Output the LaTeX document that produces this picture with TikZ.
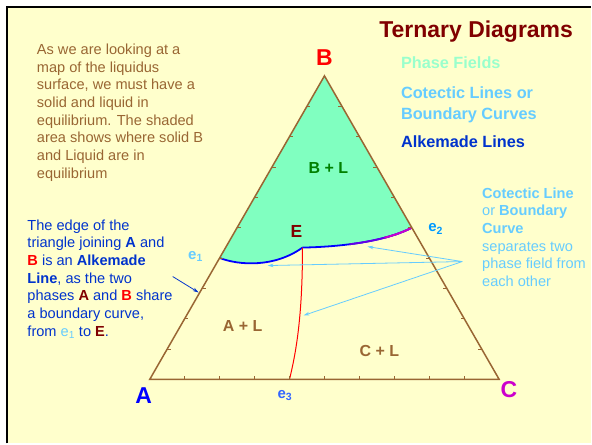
\documentclass[tikz,border=0pt]{standalone}
\usepackage{fontspec}
\setmainfont{Liberation Sans}
\usepackage{tikz}
\usetikzlibrary{positioning, calc, arrows.meta}

\definecolor{paper}{HTML}{FFFFCC}
\definecolor{edgebrown}{HTML}{996633}
\definecolor{fieldgreen}{HTML}{80FFC0}
\definecolor{mint}{HTML}{99FFCC}
\definecolor{skyblue}{HTML}{66CCFF}
\definecolor{alkblue}{HTML}{0033CC}
\definecolor{darkred}{HTML}{800000}
\definecolor{vertexC}{HTML}{CC00CC}
\definecolor{etwo}{HTML}{0099FF}
\definecolor{ethree}{HTML}{3366FF}
\definecolor{fieldtext}{HTML}{008000}

\newcommand{\fs}[2]{\fontsize{#1}{#2}\selectfont}

\begin{document}
\begin{tikzpicture}[
    x=1pt, y=-1pt,
    every node/.style={inner sep=0pt, outer sep=0pt},
    para/.style={align=left, anchor=north west, font=\fs{14.6}{17.7}},
    legend/.style={align=left, anchor=north west, font=\bfseries\fs{16.3}{20.7}},
    vlabel/.style={font=\bfseries\fs{23}{23}},
    field/.style={font=\bfseries\fs{16}{16}, anchor=base},
    elabel/.style={font=\bfseries\fs{15}{15}, anchor=base west},
    triedge/.style={draw=edgebrown, line width=1.5pt, line join=miter},
    tickmark/.style={edgebrown, line width=0.8pt},
    pointer/.style={-{Stealth[length=6pt, width=3.5pt]}, skyblue, line width=0.8pt}
]
    % page and frame
    \fill[white] (0,0) rectangle (592,444);
    \fill[paper] (8,8) rectangle (592,444);
    \draw[line width=2pt] (7,444) -- (7,7) -- (592,7);
    \useasboundingbox (0,0) rectangle (592,444);

    % corners and invariant points
    \coordinate (A) at (150,380);
    \coordinate (B) at (325,76);
    \coordinate (C) at (500,380);
    \coordinate (e1) at (220,258.4);
    \coordinate (e2) at (412.5,228);
    \coordinate (e3) at (290,380);
    \coordinate (E) at (303,248);

    % B + L field
    \fill[fieldgreen] (B) -- (e1) .. controls (240,266) and (275,268) .. (E)
        .. controls (350,247) and (390,240) .. (e2) -- cycle;

    % boundary curves
    \draw[blue, line width=1.8pt] (e1) .. controls (240,266) and (275,268) .. (E);
    \draw[blue, line width=1.8pt] (E) .. controls (350,247) and (390,240) .. (e2);
    \begin{scope}
        \clip (350,200) rectangle (420,260);
        \draw[blue!50!vertexC, line width=1.8pt] (E) .. controls (350,247) and (390,240) .. (e2);
    \end{scope}
    \begin{scope}
        \clip (385,200) rectangle (420,260);
        \draw[vertexC, line width=1.8pt] (E) .. controls (350,247) and (390,240) .. (e2);
    \end{scope}
    \draw[red, line width=1pt] (E) .. controls (303,320) and (296,355) .. (e3);

    % triangle with ticks
    \draw[triedge] (A) -- (B) -- (C) -- cycle;
    \foreach \i in {1,...,9} {
        \draw[tickmark] ($(A)!\i/10!(C)$) -- ++(0,-3.5);
        \draw[tickmark] ($(A)!\i/10!(B)$) -- ++(3.5,0);
        \draw[tickmark] ($(C)!\i/10!(B)$) -- ++(-3.5,0);
    }

    % corner labels
    \node[vlabel, text=red, above=10pt of B] (lblB) {B};
    \node[vlabel, text=blue, below=8pt of A, xshift=-6pt] (lblA) {A};
    \node[vlabel, text=vertexC, below right=2.5pt and 1.5pt of C] (lblC) {C};
    \node[font=\bfseries\fs{17.5}{17.5}, text=darkred, anchor=base] (lblE) at (297,237.7) {E};
    \node[elabel, text=skyblue] (lble1) at (188.5,260) {e\textsubscript{1}};
    \node[elabel, text=etwo] (lble2) at (429,232.3) {e\textsubscript{2}};
    \node[elabel, text=ethree] (lble3) at (278,399) {e\textsubscript{3}};

    % phase fields
    \node[field, text=fieldtext] (BL) at (329,174) {B + L};
    \node[field, text=edgebrown] (AL) at (243,332.3) {A + L};
    \node[field, text=edgebrown] (CL) at (380,357.3) {C + L};

    % title and legend
    \node[font=\bfseries\fs{23}{23}, text=darkred, anchor=base west] (title) at (380,37.3) {Ternary Diagrams};
    \node[legend, text=mint] (keyfield) at (401.7,57.3) {Phase Fields};
    \node[legend, text=skyblue] (keycotectic) at (401.7,86.7) {Cotectic Lines or\\Boundary Curves};
    \node[legend, text=alkblue] (keyalkemade) at (401.7,135.5) {Alkemade Lines};

    % notes
    \node[para, text=edgebrown] (intro) at (37,44) {As we are looking at a\\map of the liquidus\\surface, we must have a\\solid and liquid in\\equilibrium. The shaded\\area shows where solid B\\and Liquid are in\\equilibrium};
    \node[para, text=alkblue] (alknote) at (27.5,220) {The edge of the\\triangle joining \textbf{A} and\\{\color{red}\textbf{B}} is an \textbf{Alkemade}\\\textbf{Line}, as the two\\phases {\color{darkred}\textbf{A}} and {\color{red}\textbf{B}} share\\a boundary curve,\\from {\color{skyblue}e\textsubscript{1}} to {\color{darkred}\textbf{E}}.};
    \node[para, text=skyblue] (cotnote) at (483,188) {\textbf{Cotectic Line}\\or \textbf{Boundary}\\\textbf{Curve}\\separates two\\phase field from\\each other};

    % pointers
    \coordinate (fan) at (463,262);
    \coordinate (tipEC) at (368,247);
    \coordinate (tipAB) at (268,266);
    \coordinate (tipAC) at (304,316);
    \coordinate (alktail) at (173,277);
    \coordinate (alktip) at (199,293);
    \draw[pointer] (fan) -- (tipEC);
    \draw[pointer] (fan) -- (tipAB);
    \draw[pointer] (fan) -- (tipAC);
    \draw[pointer, alkblue] (alktail) -- (alktip);
\end{tikzpicture}
\end{document}
